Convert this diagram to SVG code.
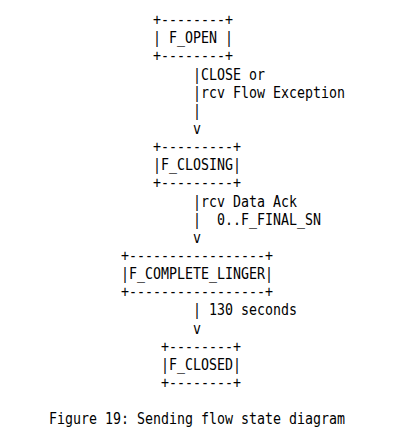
<svg xmlns="http://www.w3.org/2000/svg" width="411" height="444" viewBox="0 0 411 444">
<style>
text{font-family:"DejaVu Sans Mono","Liberation Mono",monospace;font-size:15px;fill:#000;lengthAdjust:spacingAndGlyphs}
</style>
<rect width="411" height="444" fill="#fff"/>
<g id="node-f-open">
<text x="153" y="25" textLength="80" lengthAdjust="spacingAndGlyphs">+--------+</text>
<text x="153" y="43.2" textLength="80" lengthAdjust="spacingAndGlyphs">| F_OPEN |</text>
<text x="153" y="61.3" textLength="80" lengthAdjust="spacingAndGlyphs">+--------+</text>
</g>
<g id="node-f-closing">
<text x="153" y="152" textLength="88" lengthAdjust="spacingAndGlyphs">+---------+</text>
<text x="153" y="170.2" textLength="88" lengthAdjust="spacingAndGlyphs">|F_CLOSING|</text>
<text x="153" y="188.3" textLength="88" lengthAdjust="spacingAndGlyphs">+---------+</text>
</g>
<g id="node-f-complete-linger">
<text x="121" y="261" textLength="152" lengthAdjust="spacingAndGlyphs">+-----------------+</text>
<text x="121" y="279.1" textLength="152" lengthAdjust="spacingAndGlyphs">|F_COMPLETE_LINGER|</text>
<text x="121" y="297.2" textLength="152" lengthAdjust="spacingAndGlyphs">+-----------------+</text>
</g>
<g id="node-f-closed">
<text x="161" y="351.7" textLength="80" lengthAdjust="spacingAndGlyphs">+--------+</text>
<text x="161" y="369.8" textLength="80" lengthAdjust="spacingAndGlyphs">|F_CLOSED|</text>
<text x="161" y="388" textLength="80" lengthAdjust="spacingAndGlyphs">+--------+</text>
</g>
<g id="connectors">
<text x="193" y="79.5" textLength="72" lengthAdjust="spacingAndGlyphs">|CLOSE or</text>
<text x="193" y="97.6" textLength="152" lengthAdjust="spacingAndGlyphs">|rcv Flow Exception</text>
<text x="193" y="115.8" textLength="8" lengthAdjust="spacingAndGlyphs">|</text>
<text x="193" y="133.9" textLength="8" lengthAdjust="spacingAndGlyphs">v</text>
<text x="193" y="206.5" textLength="104" lengthAdjust="spacingAndGlyphs">|rcv Data Ack</text>
<text x="193" y="224.6" textLength="8" lengthAdjust="spacingAndGlyphs">|</text>
<text x="217" y="224.6" textLength="104" lengthAdjust="spacingAndGlyphs">0..F_FINAL_SN</text>
<text x="193" y="242.8" textLength="8" lengthAdjust="spacingAndGlyphs">v</text>
<text x="193" y="315.4" textLength="104" lengthAdjust="spacingAndGlyphs">| 130 seconds</text>
<text x="193" y="333.5" textLength="8" lengthAdjust="spacingAndGlyphs">v</text>
</g>
<g id="caption">
<text x="49" y="424.3" textLength="296" lengthAdjust="spacingAndGlyphs">Figure 19: Sending flow state diagram</text>
</g>
</svg>
